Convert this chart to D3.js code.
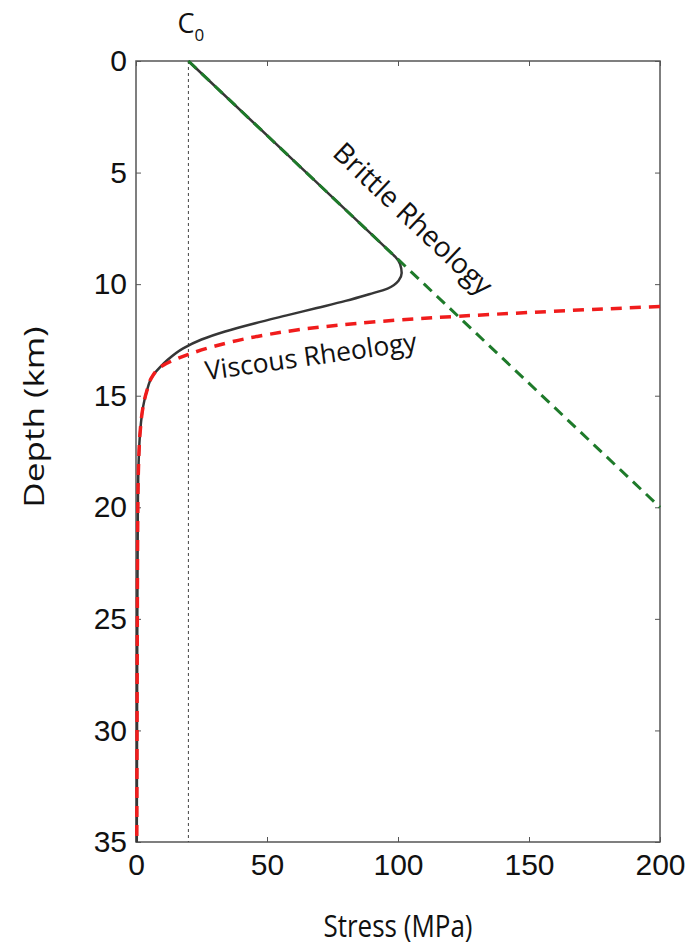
<!DOCTYPE html>
<html>
<head>
<meta charset="utf-8">
<script src="https://cdn.jsdelivr.net/npm/d3@7"></script>
<style>
  html, body { margin: 0; padding: 0; background: #fff; }
  svg { display: block; }
</style>
</head>
<body>
<div id="chart"></div>
<script>
// values: [stress (MPa), depth (km)]
const brittle = [[20, 0], [200, 20]];
const viscous = [
  [200, 11.0], [150, 11.27], [101, 11.6], [70, 11.93], [46, 12.35], [31, 12.75],
  [20, 13.15], [13.5, 13.45], [9.2, 13.72], [6.4, 14.1], [4.1, 14.8],
  [2.7, 15.5], [1.6, 16.6], [1.0, 18], [0.7, 20], [0.5, 25], [0.4, 30], [0.3, 35]
];
const combined = [
  [20, 0], [60, 4.44], [98, 8.67], [99, 8.78], [100.8, 9.1], [101.4, 9.5], [100.2, 9.85],
  [96, 10.2], [89, 10.45], [80, 10.75], [69, 11.07], [57.5, 11.4], [45.5, 11.75],
  [34, 12.12], [25, 12.48], [18, 12.88], [12, 13.4], [9.2, 13.72], [6.4, 14.1],
  [4.1, 14.8], [2.7, 15.5], [1.6, 16.6], [1.0, 18], [0.7, 20], [0.5, 25],
  [0.4, 30], [0.3, 35]
];
const cohesion = 20;
const stressTicks = [0, 50, 100, 150, 200];
const depthTicks = [0, 5, 10, 15, 20, 25, 30, 35];

const width = 694, height = 947;
const plot = { left: 136, right: 660, top: 61, bottom: 842 };

const x = d3.scaleLinear().domain([0, 200]).range([plot.left, plot.right]);
const y = d3.scaleLinear().domain([0, 35]).range([plot.top, plot.bottom]);
const translate = (a, b) => `translate(${a}, ${b})`;

const svg = d3.select('#chart').append('svg')
  .attr('width', width)
  .attr('height', height);

const tickFont = '"Liberation Sans", Arial, sans-serif';
const labelFont = '"Open Sans", "Noto Sans", sans-serif';

// frame + axes (ticks point inward on all four sides)
const styleAxis = g => {
  g.select('.domain').remove();
  g.selectAll('line').attr('stroke', '#555').attr('stroke-width', 1);
  g.selectAll('text')
    .attr('fill', '#111')
    .style('font-family', tickFont)
    .style('font-size', '30px');
};

svg.append('g').attr('transform', translate(0, plot.bottom))
  .call(d3.axisBottom(x).tickValues(stressTicks).tickSizeInner(-5).tickSizeOuter(0).tickPadding(12))
  .call(styleAxis);
svg.append('g').attr('transform', translate(0, plot.top))
  .call(d3.axisTop(x).tickValues(stressTicks).tickSizeInner(-5).tickSizeOuter(0).tickFormat(''))
  .call(styleAxis);
svg.append('g').attr('transform', translate(plot.left, 0))
  .call(d3.axisLeft(y).tickValues(depthTicks).tickSizeInner(-5).tickSizeOuter(0).tickPadding(9))
  .call(styleAxis);
svg.append('g').attr('transform', translate(plot.right, 0))
  .call(d3.axisRight(y).tickValues(depthTicks).tickSizeInner(-5).tickSizeOuter(0).tickFormat(''))
  .call(styleAxis);

svg.append('rect')
  .attr('x', plot.left)
  .attr('y', plot.top)
  .attr('width', plot.right - plot.left)
  .attr('height', plot.bottom - plot.top)
  .attr('fill', 'none')
  .attr('stroke', '#555')
  .attr('stroke-width', 1.5);

// C0 marker
svg.append('line')
  .attr('x1', x(cohesion)).attr('x2', x(cohesion))
  .attr('y1', y(0)).attr('y2', y(35))
  .attr('stroke', '#444')
  .attr('stroke-width', 1)
  .attr('stroke-dasharray', '3 3');

const c0 = svg.append('text')
  .attr('x', x(cohesion) - 11)
  .attr('y', 33)
  .attr('fill', '#111')
  .style('font-family', labelFont)
  .style('font-size', '27px');
c0.append('tspan').text('C');
c0.append('tspan').attr('dy', 8).style('font-size', '17px').text('0');

// curves
const line = d3.line()
  .x(d => x(d[0]))
  .y(d => y(d[1]))
  .curve(d3.curveMonotoneY);

const curves = svg.append('g');

curves.append('path')
  .datum(combined)
  .attr('d', line)
  .attr('fill', 'none')
  .attr('stroke', '#363636')
  .attr('stroke-width', 2.5);

curves.append('path')
  .datum(brittle)
  .attr('d', d3.line().x(d => x(d[0])).y(d => y(d[1])))
  .attr('fill', 'none')
  .attr('stroke', '#1e7a2a')
  .attr('stroke-width', 3)
  .attr('stroke-dasharray', '11 7');

curves.append('path')
  .datum(viscous)
  .attr('d', line)
  .attr('fill', 'none')
  .attr('stroke', '#f01c1c')
  .attr('stroke-width', 3.5)
  .attr('stroke-dasharray', '11 8');

// rheology labels
const brittleAngle = Math.atan2(y(20) - y(0), x(200) - x(20)) * 180 / Math.PI;
svg.append('text')
  .attr('transform', `${translate(x(103.2), y(7.39))} rotate(${brittleAngle})`)
  .attr('text-anchor', 'middle')
  .attr('fill', '#111')
  .style('font-family', labelFont)
  .style('font-size', '28px')
  .text('Brittle Rheology');

svg.append('text')
  .attr('transform', `${translate(x(67.2), y(13.64))} rotate(-8)`)
  .attr('text-anchor', 'middle')
  .attr('fill', '#111')
  .style('font-family', labelFont)
  .style('font-size', '26.5px')
  .text('Viscous Rheology');

// axis titles (the figure's titles look stretched, so scale them a bit)
svg.append('text')
  .attr('transform', `${translate((plot.left + plot.right) / 2, 937)} scale(1, 1.2)`)
  .attr('text-anchor', 'middle')
  .attr('fill', '#111')
  .style('font-family', labelFont)
  .style('font-size', '26px')
  .text('Stress (MPa)');

svg.append('text')
  .attr('transform', `${translate(44, 417)} rotate(-90) scale(1.3, 1)`)
  .attr('text-anchor', 'middle')
  .attr('fill', '#111')
  .style('font-family', labelFont)
  .style('font-size', '27px')
  .text('Depth (km)');
</script>
</body>
</html>
